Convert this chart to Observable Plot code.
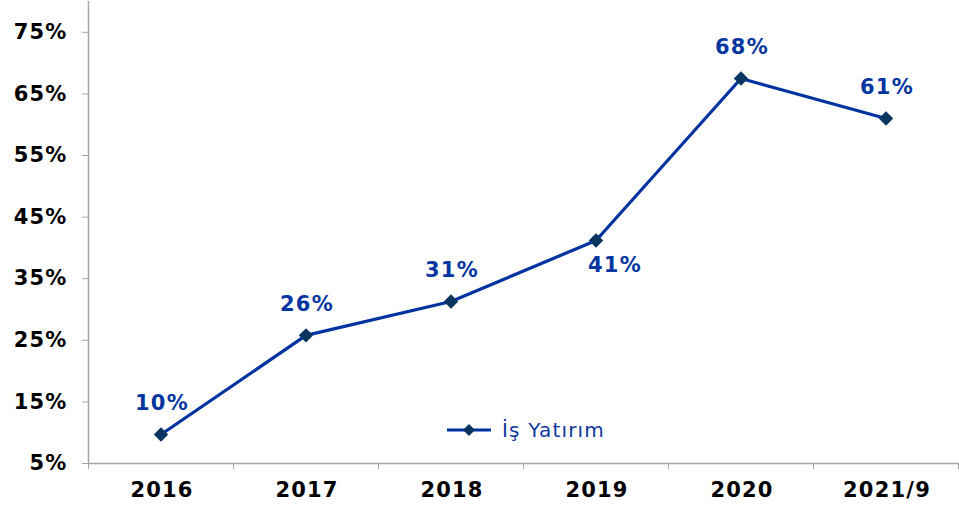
<!DOCTYPE html>
<html>
<head>
<meta charset="utf-8">
<script src="https://cdn.jsdelivr.net/npm/d3@7"></script>
<script src="https://cdn.jsdelivr.net/npm/@observablehq/plot@0.6"></script>
<style>
  html, body { margin: 0; padding: 0; background: #fff; }
  #wrap { position: relative; width: 959px; height: 506px; }
  #wrap svg text { letter-spacing: 1.2px; }
  #legend { position: absolute; left: 445px; top: 416px; display: flex; align-items: center;
            font-family: "DejaVu Sans", Verdana, sans-serif; font-size: 20px; color: #0e379e; letter-spacing: 1.2px; }
</style>
</head>
<body>
<div id="wrap"></div>
<script>
const categories = ["2016", "2017", "2018", "2019", "2020", "2021/9"];
const values = [9.7, 25.8, 31.3, 41.2, 67.5, 61.0];
const labels = ["10%", "26%", "31%", "41%", "68%", "61%"];
const labelAbove = [true, true, true, false, true, true];
const yTicks = [5, 15, 25, 35, 45, 55, 65, 75];
const seriesName = "İş Yatırım";

const data = categories.map((c, i) => ({i, cat: c, v: values[i], label: labels[i], above: labelAbove[i]}));
const idx = categories.map((_, i) => i);
const bounds = d3.range(-0.5, categories.length, 1);

const lineColor = "#0033a0";
const markerColor = "#0b3561";
const labelColor = "#0536a0";
const axisColor = "#a6a6a6";

const chart = Plot.plot({
  width: 959,
  height: 506,
  marginLeft: 88,
  marginRight: 1,
  marginTop: 1,
  marginBottom: 43,
  x: {type: "linear", domain: [-0.5, categories.length - 0.5]},
  y: {domain: [5, 80]},
  style: {fontFamily: "DejaVu Sans, Verdana, sans-serif", fontSize: "21px", fontWeight: "bold", background: "white", overflow: "visible"},
  marks: [
    Plot.axisY({ticks: yTicks, tickFormat: d => d + "%", tickSize: 6, tickPadding: 15, stroke: axisColor, fill: "black", label: null}),
    Plot.axisX({ticks: bounds, tickFormat: () => "", tickSize: 6, stroke: axisColor, label: null}),
    Plot.axisX({ticks: idx, tickFormat: i => categories[i], tickSize: 0, tickPadding: 19, fill: "black", label: null, dx: 1}),
    Plot.ruleX([-0.5], {y1: 5, y2: 80, stroke: axisColor, strokeWidth: 1.5}),
    Plot.ruleY([5], {stroke: axisColor, strokeWidth: 1.5}),
    Plot.line(data, {x: "i", y: "v", stroke: lineColor, strokeWidth: 3.2}),
    Plot.dot(data, {x: "i", y: "v", symbol: "diamond2", r: 6.5, fill: markerColor, stroke: "none"}),
    Plot.text(data.filter(d => d.above), {x: "i", y: "v", text: "label", dy: -31, dx: 1, fill: labelColor, fontSize: 21, fontWeight: "bold"}),
    Plot.text(data.filter(d => !d.above), {x: "i", y: "v", text: "label", dy: 25, dx: 19, fill: labelColor, fontSize: 21, fontWeight: "bold"})
  ]
});

const wrap = document.getElementById("wrap");
wrap.appendChild(chart);

const legend = document.createElement("div");
legend.id = "legend";
legend.innerHTML = `<svg width="48" height="28" style="margin-right:9px"><line x1="2" x2="46" y1="14" y2="14" stroke="${lineColor}" stroke-width="3"/><path d="M24,8 L30,14 L24,20 L18,14 Z" fill="${markerColor}"/></svg><span>${seriesName}</span>`;
wrap.appendChild(legend);
</script>
</body>
</html>
